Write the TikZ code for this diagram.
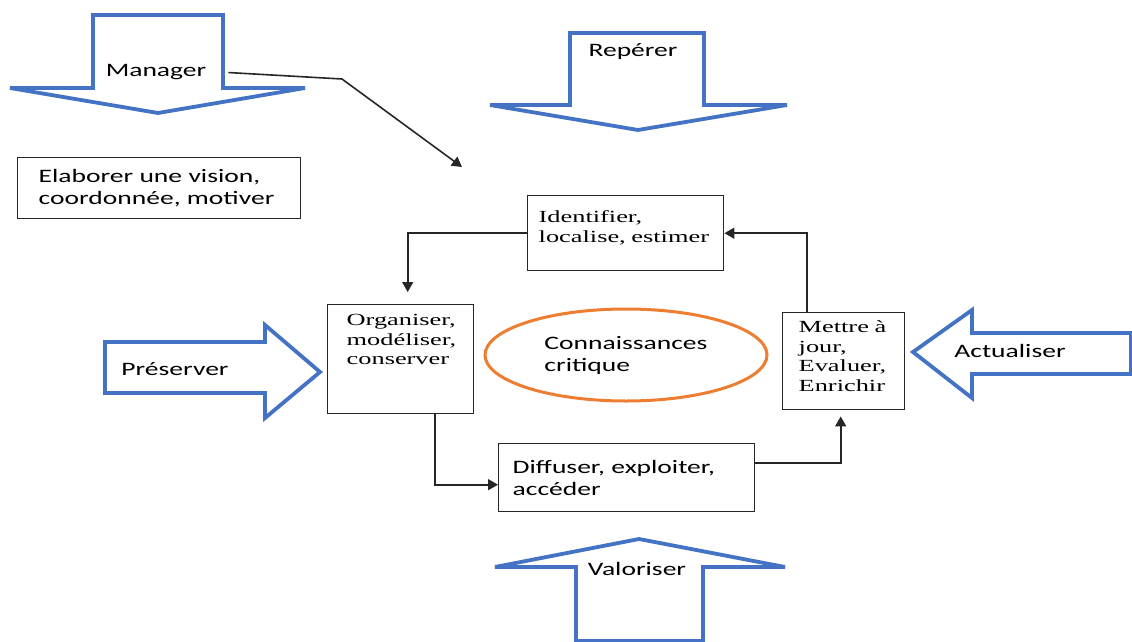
\documentclass[tikz,border=0pt]{standalone}
\usepackage{fontspec}
\usetikzlibrary{shapes.geometric,arrows.meta}
\newfontfamily\labelfont[FakeStretch=1.45]{Carlito}
\newfontfamily\boxserif[FakeStretch=1.55]{Liberation Serif}
\definecolor{arrowblue}{HTML}{4472C4}
\definecolor{ringorange}{HTML}{ED7D31}
\tikzset{
  blockarrow/.style={draw=arrowblue, fill=white, line width=3.8pt, line join=miter},
  lbl/.style={font=\labelfont\fontsize{19}{22}\selectfont, inner sep=0pt, anchor=base},
  % boxed step: anchored at its top-left corner, text set from the top
  stepbox/.style={draw=black!85, line width=1.4pt, anchor=north west, inner ysep=0pt, align=left},
  sanstext/.style={font=\labelfont\fontsize{19}{22}\selectfont},
  seriftext/.style={font=\boxserif\fontsize{17}{19.5}\selectfont},
  conn/.style={draw=black!85, line width=1.6pt, -{Triangle[length=10pt,width=11pt]}}
}
\begin{document}
\begin{tikzpicture}[x=1pt,y=-1pt]
\useasboundingbox (0,0) rectangle (1132,642);

% block arrows
\draw[blockarrow] (93,15) -- (223,15) -- (223,88) -- (305,88) -- (158,113) -- (10,88) -- (93,88) -- cycle;
\draw[blockarrow] (570,33) -- (704,33) -- (704,105) -- (787,105) -- (638,130) -- (490,105) -- (570,105) -- cycle;
\draw[blockarrow] (105,342) -- (265,342) -- (265,325) -- (320,372) -- (265,418) -- (265,393) -- (105,393) -- cycle;
\draw[blockarrow] (1131,333) -- (972,333) -- (972,310) -- (913,352) -- (972,398) -- (972,374) -- (1131,374) -- cycle;
\draw[blockarrow] (576,641) -- (576,567) -- (495,567) -- (639,539) -- (785,567) -- (703,567) -- (703,641) -- cycle;

% labels on the block arrows
\node[lbl, inner xsep=22pt] (mgr) at (156,77) {Manager};
\node[lbl] (rep) at (633,57) {Repérer};
\node[lbl] (pres) at (175,375) {Préserver};
\node[lbl] (act) at (1010,357) {Actualiser};
\node[lbl] (val) at (637,575) {Valoriser};

% boxes
\node[stepbox, sanstext, inner xsep=21pt, text width=241pt, text height=25pt, text depth=36pt]
  (elab) at (17,157) {Elaborer une vision,\\coordonnée, motiver};
\node[stepbox, seriftext, inner xsep=11pt, text width=174pt, text height=27pt, text depth=48pt]
  (ident) at (527,195) {Identifier,\\localise, estimer};
\node[stepbox, seriftext, inner xsep=19pt, text width=108pt, text height=21pt, text depth=88pt]
  (org) at (327,304) {Organiser,\\modéliser,\\conserver};
\node[stepbox, seriftext, inner xsep=16pt, text width=90pt, text height=20pt, text depth=77pt]
  (mettre) at (782,312) {Mettre à\\jour,\\Evaluer,\\Enrichir};
\node[stepbox, sanstext, inner xsep=14pt, text width=228pt, text height=30pt, text depth=38pt]
  (diff) at (498,443) {Diffuser, exploiter,\\accéder};

% central ellipse
\node[ellipse, draw=ringorange, line width=3pt, minimum width=282pt, minimum height=92pt,
      inner sep=0pt, sanstext, align=left] (crit) at (626,355) {Connaissances\\critique};

% connectors
\coordinate (mgrbend) at (342,79);
\coordinate (mgrend) at (462,167);
\draw[conn] (mgr.east) -- (mgrbend) -- (mgrend);
\draw[conn, shorten >=12pt] (ident.west) -| ([xshift=7pt]org.north);
\draw[conn] ([xshift=-37pt]mettre.north) |- (ident.east);
\draw[conn] ([xshift=34pt]org.south) |- ([yshift=-7pt]diff.west);
\draw[conn, shorten >=6pt] ([yshift=15pt]diff.east) -| ([xshift=-3pt]mettre.south);
\end{tikzpicture}
\end{document}
